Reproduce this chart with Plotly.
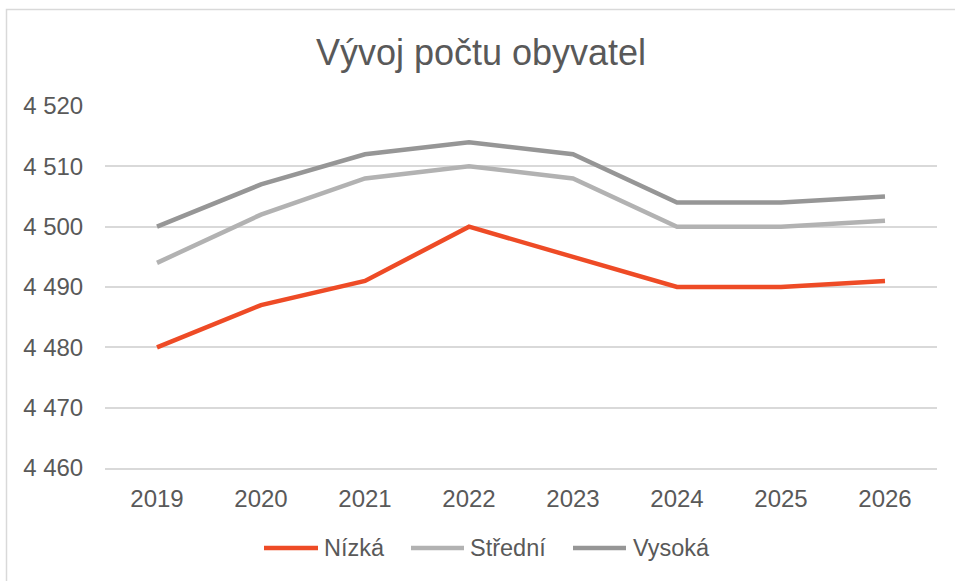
import plotly.graph_objects as go

years = ["2019", "2020", "2021", "2022", "2023", "2024", "2025", "2026"]
nizka = [4480, 4487, 4491, 4500, 4495, 4490, 4490, 4491]
stredni = [4494, 4502, 4508, 4510, 4508, 4500, 4500, 4501]
vysoka = [4500, 4507, 4512, 4514, 4512, 4504, 4504, 4505]
series_names = ["Nízká", "Střední", "Vysoká"]
colors = ["#EE4B26", "#B2B2B2", "#969696"]
title_text = "Vývoj počtu obyvatel"

W, H = 955, 581
L, R, T, B = 105, 18, 106, 113
pw, ph = W - L - R, H - T - B

fig = go.Figure()
for name, vals, col in zip(series_names, [nizka, stredni, vysoka], colors):
    fig.add_trace(go.Scatter(x=years, y=vals, name=name, mode="lines",
                             line=dict(color=col, width=4.5), showlegend=False))

font_fam = "Liberation Sans, Arial, sans-serif"
txt = "#595959"


def px_x(p):
    return (p - L) / pw


def px_y(p):
    return (H - B - p) / ph


shapes = [dict(type="rect", xref="paper", yref="paper",
               x0=px_x(6.5), x1=px_x(975), y0=px_y(600), y1=px_y(9.5),
               line=dict(color="#D9D9D9", width=1.5), fillcolor="rgba(0,0,0,0)",
               layer="below")]
annotations = []
# custom legend: line start, line end, text start (page pixels)
leg_pos = [(264, 318, 322), (411, 464, 468), (573, 626, 631)]
leg_y = 548
for name, col, (a, b, t) in zip(series_names, colors, leg_pos):
    shapes.append(dict(type="line", xref="paper", yref="paper",
                       x0=px_x(a), x1=px_x(b), y0=px_y(leg_y), y1=px_y(leg_y),
                       line=dict(color=col, width=4.5)))
    annotations.append(dict(text=name, xref="paper", yref="paper",
                            x=px_x(t), y=px_y(leg_y), xanchor="left", yanchor="middle",
                            showarrow=False, font=dict(size=23.5, color=txt, family=font_fam)))

fig.update_layout(
    width=W, height=H,
    margin=dict(l=L, r=R, t=T, b=B),
    paper_bgcolor="white", plot_bgcolor="white",
    separators=", ",
    showlegend=False,
    font=dict(family=font_fam, size=24, color=txt),
    title=dict(text=title_text, x=481 / W, xref="container", xanchor="center",
               y=1 - 52 / H, yref="container", yanchor="middle",
               font=dict(size=36, color=txt, family=font_fam)),
    xaxis=dict(type="category", range=[-0.5, 7.5], showgrid=False, zeroline=False,
               showline=True, linecolor="#D9D9D9", linewidth=1.5,
               ticks="outside", ticklen=8, tickcolor="rgba(0,0,0,0)",
               tickfont=dict(size=24, color=txt)),
    yaxis=dict(range=[4460, 4520], dtick=10, tick0=4460, tickformat=",d",
               showgrid=True, gridcolor="#D9D9D9", gridwidth=1.5, zeroline=False,
               showline=False, ticks="outside", ticklen=16, tickcolor="rgba(0,0,0,0)",
               tickfont=dict(size=24, color=txt)),
    shapes=shapes,
    annotations=annotations,
)

fig.write_html("out.html", config={"displayModeBar": False},
               post_script="document.body.style.margin='0';document.body.style.overflow='hidden';")
